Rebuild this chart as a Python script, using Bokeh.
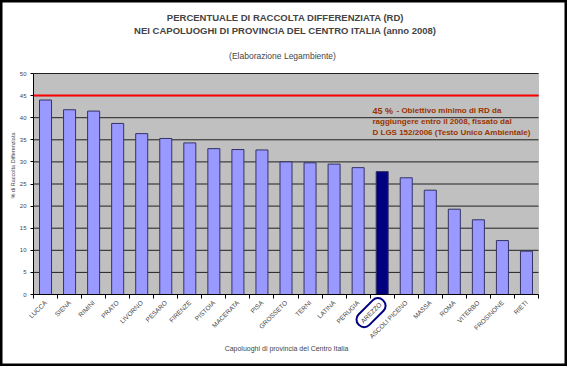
import math
from bokeh.plotting import figure
from bokeh.models import ColumnDataSource, FixedTicker, Label, BoxAnnotation, Range1d
from bokeh.embed import file_html
from bokeh.resources import INLINE

cities = ["LUCCA", "SIENA", "RIMINI", "PRATO", "LIVORNO", "PESARO", "FIRENZE",
          "PISTOIA", "MACERATA", "PISA", "GROSSETO", "TERNI", "LATINA", "PERUGIA",
          "AREZZO", "ASCOLI PICENO", "MASSA", "ROMA", "VITERBO", "FROSINONE", "RIETI"]
values = [44.0, 41.8, 41.5, 38.7, 36.4, 35.3, 34.3, 33.0, 32.8, 32.7, 30.0, 29.8,
          29.5, 28.7, 27.8, 26.4, 23.6, 19.3, 16.9, 12.2, 9.8]
highlight = "AREZZO"
target = 45
y_ticks = list(range(0, 51, 5))

title1 = "PERCENTUALE DI RACCOLTA DIFFERENZIATA (RD)"
title2 = "NEI CAPOLUOGHI DI PROVINCIA DEL CENTRO ITALIA (anno 2008)"
subtitle = "(Elaborazione Legambiente)"
note_head = "45 %"
note_lines = ["- Obiettivo minimo di RD da",
              "raggiungere entro il 2008, fissato dal",
              "D LGS 152/2006 (Testo Unico Ambientale)"]
x_label = "Capoluoghi di provincia del Centro Italia"
y_label = "% di Raccolta Differenziata"

FONT = "Liberation Sans"
NOTE_COLOR = "#993300"

W, H = 567, 366
# plot-area placement in pixels (left, right, top, bottom)
PL, PR, PT, PB = 33, 538, 73, 294
n = len(cities)
y_max = y_ticks[-1]
xs_per_px = n / (PR - PL)
ys_per_px = y_max / (PB - PT)
x_lo = -0.5 - PL * xs_per_px
x_hi = -0.5 + (W - PL) * xs_per_px
y_hi = PB * ys_per_px
y_lo = -(H - PB) * ys_per_px

xs = list(range(n))
colors = ["#000080" if c == highlight else "#9999FF" for c in cities]
src = ColumnDataSource(dict(x=xs, top=values, color=colors))
grid_src = ColumnDataSource(dict(y=y_ticks[1:], x0=[-0.5] * (len(y_ticks) - 1),
                                 x1=[n - 0.5] * (len(y_ticks) - 1)))

p = figure(width=W, height=H, x_range=Range1d(x_lo, x_hi), y_range=Range1d(y_lo, y_hi),
           output_backend="svg", toolbar_location=None,
           min_border_left=0, min_border_right=0, min_border_top=0, min_border_bottom=0)
p.background_fill_color = "white"
p.border_fill_color = "white"
p.outline_line_color = "black"
p.outline_line_width = 4
p.xgrid.visible = False
p.ygrid.visible = False

# plot area background
p.add_layout(BoxAnnotation(left=-0.5, right=n - 0.5, bottom=0, top=y_max,
                           fill_color="#C0C0C0", fill_alpha=1, line_color="#808080",
                           line_width=1, level="underlay"))

# gridlines
p.segment(x0="x0", x1="x1", y0="y", y1="y", line_color="#202020", line_width=1,
          source=grid_src)

p.vbar(x="x", top="top", width=0.5, fill_color="color", line_color="#333366",
       line_width=1, source=src)

# target line
p.segment(x0=[-0.5], x1=[n - 0.5], y0=[target], y1=[target], line_color="#FF0000",
          line_width=2)

# axes drawn at fixed positions inside the canvas
p.xaxis.fixed_location = 0
p.xaxis.bounds = (-0.5, n - 0.5)
p.xaxis.ticker = FixedTicker(ticks=xs, minor_ticks=[i - 0.5 for i in range(n + 1)])
p.xaxis.major_label_overrides = {i: ("" if c == highlight else c) for i, c in enumerate(cities)}
p.xaxis.major_label_orientation = math.pi / 4
p.xaxis.major_tick_out = 0
p.xaxis.major_tick_in = 0
p.xaxis.minor_tick_out = 4
p.xaxis.minor_tick_in = 0
p.xaxis.major_label_standoff = 3
p.xaxis.major_label_text_font_size = "6.5px"
p.xaxis.major_label_text_font = FONT
p.xaxis.axis_line_color = "black"

p.yaxis.fixed_location = -0.5
p.yaxis.bounds = (0, y_max)
p.yaxis.ticker = FixedTicker(ticks=y_ticks)
p.yaxis.major_tick_out = 3
p.yaxis.major_tick_in = 0
p.yaxis.minor_tick_out = 0
p.yaxis.minor_tick_in = 0
p.yaxis.major_label_standoff = 4
p.yaxis.major_label_text_font_size = "6px"
p.yaxis.major_label_text_font = FONT
p.yaxis.axis_line_color = "black"

# highlighted label with ellipse
hi = cities.index(highlight)
p.add_layout(Label(x=hi, y=0, text=highlight, angle=math.pi / 4, text_align="right",
                   text_baseline="middle", text_font=FONT, text_font_size="6.5px",
                   x_offset=1, y_offset=-6,
                   border_line_color="#000080", border_line_width=2,
                   padding=4, border_radius=7))

def px_x(px):
    return -0.5 + (px - PL) * xs_per_px

def px_y(py):
    return (PB - py) * ys_per_px

# titles
p.add_layout(Label(x=px_x(285), y=px_y(17), text=title1, text_align="center",
                   text_baseline="middle", text_font=FONT, text_font_size="9.5px",
                   text_font_style="bold"))
p.add_layout(Label(x=px_x(285), y=px_y(30), text=title2, text_align="center",
                   text_baseline="middle", text_font=FONT, text_font_size="9.5px",
                   text_font_style="bold"))
p.add_layout(Label(x=px_x(282), y=px_y(55), text=subtitle, text_align="center",
                   text_baseline="middle", text_font=FONT, text_font_size="8.5px"))

# axis labels
p.add_layout(Label(x=px_x(286), y=px_y(348), text=x_label, text_align="center",
                   text_baseline="middle", text_font=FONT, text_font_size="7px"))
p.add_layout(Label(x=px_x(12), y=px_y(165), text=y_label, angle=math.pi / 2,
                   text_align="center", text_baseline="middle", text_font=FONT,
                   text_font_size="5.5px"))

# note
p.add_layout(Label(x=px_x(372), y=px_y(110), text=note_head, text_align="left",
                   text_baseline="middle", text_font=FONT, text_font_size="9px",
                   text_font_style="bold", text_color=NOTE_COLOR))
p.add_layout(Label(x=px_x(396), y=px_y(110), text=note_lines[0], text_align="left",
                   text_baseline="middle", text_font=FONT, text_font_size="8px",
                   text_font_style="bold", text_color=NOTE_COLOR))
for txt, py in zip(note_lines[1:], [121, 132]):
    p.add_layout(Label(x=px_x(372), y=px_y(py), text=txt, text_align="left",
                       text_baseline="middle", text_font=FONT, text_font_size="8px",
                       text_font_style="bold", text_color=NOTE_COLOR))

open("out.html", "w").write(file_html(p, INLINE))
